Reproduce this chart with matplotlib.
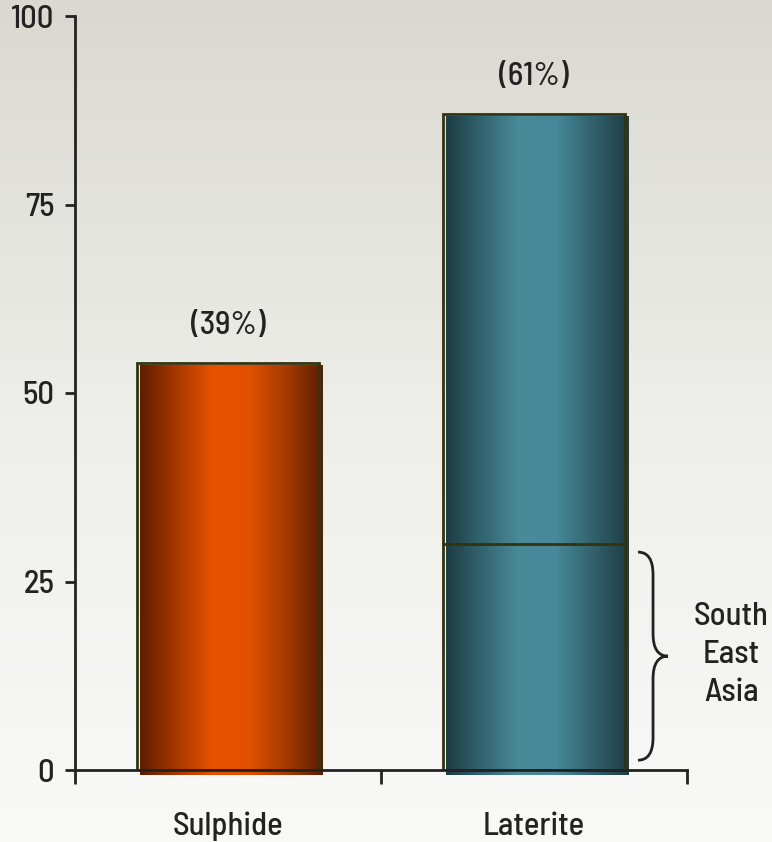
import matplotlib
matplotlib.use("Agg")
import matplotlib.pyplot as plt
import numpy as np
from matplotlib.colors import LinearSegmentedColormap
from matplotlib.patches import Rectangle, PathPatch
from matplotlib.path import Path

plt.rcParams["font.family"] = ["Barlow Semi Condensed", "Liberation Sans", "DejaVu Sans"]

categories = ["Sulphide", "Laterite"]
values = [54, 87]
shares = ["(39%)", "(61%)"]
sea_value = 30  # South East Asia part of laterite
yticks = [0, 25, 50, 75, 100]

cmaps = [
    LinearSegmentedColormap.from_list("org", ["#5e1e00", "#a83800", "#e85200", "#e24f00", "#a63a00", "#5e1e00"]),
    LinearSegmentedColormap.from_list("teal", ["#1e3c44", "#336570", "#4a8b99", "#47899a", "#32626d", "#1e3c44"]),
]
edge = "#333310"
ink = "#222222"
width = 0.595
fs = 23.5
fw = "medium"

fig = plt.figure(figsize=(7.72, 8.42), dpi=100)

# background gradient
bg = fig.add_axes([0, 0, 1, 1], zorder=-1)
grad = np.linspace(0, 1, 256).reshape(-1, 1)
bg.imshow(grad, aspect="auto", cmap=LinearSegmentedColormap.from_list("bg", ["#d9d9d1", "#eeeeea", "#f9f9f8"]),
          extent=[0, 1, 0, 1], origin="upper")
bg.axis("off")

ax = fig.add_axes([75 / 772, 72 / 842, 612 / 772, 754 / 842])
ax.patch.set_alpha(0)

hgrad = np.linspace(0, 1, 256).reshape(1, -1)
for i, (v, cm) in enumerate(zip(values, cmaps)):
    x0 = i - width / 2
    ax.imshow(hgrad, aspect="auto", cmap=cm, extent=[x0 + 0.01, x0 + width + 0.01, -0.7, v - 0.4],
              zorder=2, clip_on=False)
    ax.add_patch(Rectangle((x0, 0), width, v, fill=False, edgecolor=edge, lw=2, zorder=3))
    ax.text(i, v + 5.0, shares[i], ha="center", va="center", fontsize=fs, fontweight=fw, color=ink)

# split line for South East Asia
ax.plot([1 - width / 2, 1 + width / 2], [sea_value, sea_value], color=edge, lw=2, zorder=3)

# brace "}"
bx0, bxm, bx1 = 1.340, 1.389, 1.438
y1, ym, y0 = 28.9, 15.1, 1.3
d = 3.0
verts = [
    (bx0, y1), (bxm, y1), (bxm, y1 - d),
    (bxm, ym + d),
    (bxm, ym), (bx1, ym),
    (bxm, ym), (bxm, ym - d),
    (bxm, y0 + d),
    (bxm, y0), (bx0, y0),
]
codes = [Path.MOVETO, Path.CURVE3, Path.CURVE3,
         Path.LINETO,
         Path.CURVE3, Path.CURVE3,
         Path.CURVE3, Path.CURVE3,
         Path.LINETO,
         Path.CURVE3, Path.CURVE3]
ax.add_patch(PathPatch(Path(verts, codes), fill=False, edgecolor=ink, lw=2, clip_on=False, zorder=3))
ax.text(1.645, 15.3, "South\nEast\nAsia", ha="center", va="center", fontsize=fs, fontweight=fw,
        color=ink, linespacing=1.4)

ax.set_xlim(-0.5, 1.5)
ax.set_ylim(0, 100)
ax.spines["top"].set_visible(False)
ax.spines["right"].set_visible(False)
for s in ("left", "bottom"):
    ax.spines[s].set_linewidth(2)
    ax.spines[s].set_color(ink)
    ax.spines[s].set_zorder(4)

ax.set_yticks(yticks)
ax.tick_params(axis="y", length=7, width=2, color=ink, pad=8, labelsize=fs, labelcolor=ink)
for lab in ax.get_yticklabels():
    lab.set_fontweight(fw)
ax.set_xticks([0, 1])
ax.set_xticklabels(categories, fontsize=fs, fontweight=fw, color=ink)
ax.tick_params(axis="x", which="major", length=0, pad=30)
ax.set_xticks([-0.5, 0.5, 1.5], minor=True)
ax.tick_params(axis="x", which="minor", length=10, width=2, color=ink)

fig.savefig("out.png", dpi=100)
